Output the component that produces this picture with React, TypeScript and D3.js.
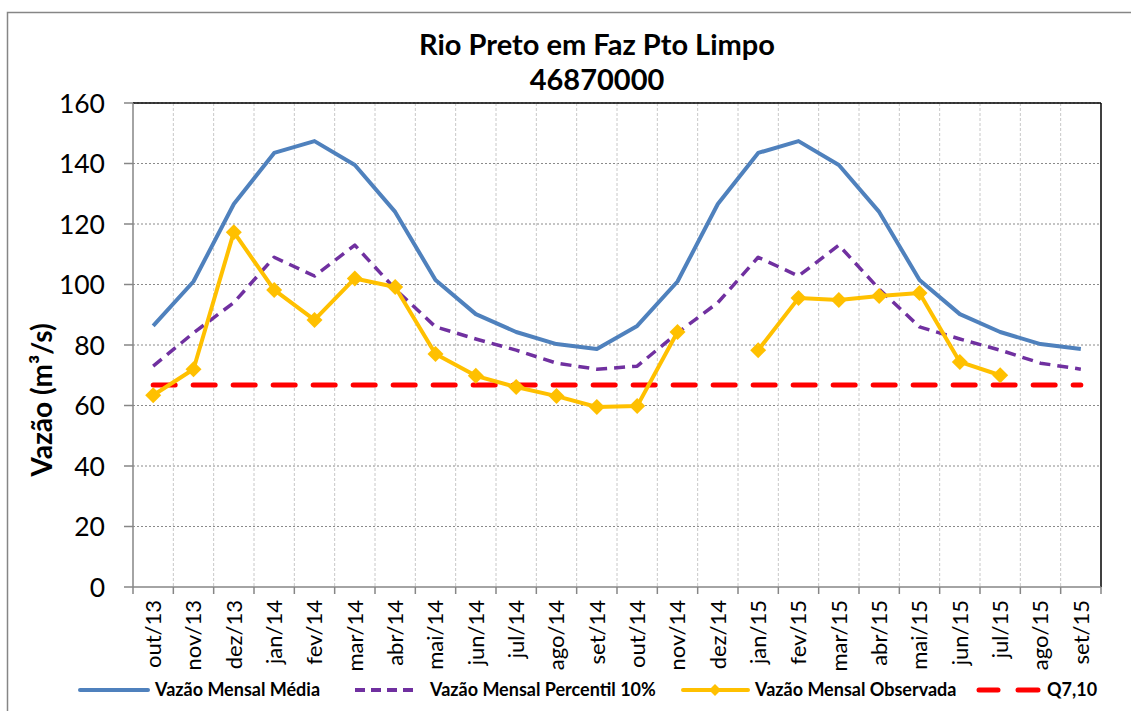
import React from "react";
import * as d3 from "d3";

const W = 1131;
const H = 711;
const FONT = "Lato, 'Open Sans', sans-serif";

const months = [
  "out/13", "nov/13", "dez/13", "jan/14", "fev/14", "mar/14", "abr/14", "mai/14",
  "jun/14", "jul/14", "ago/14", "set/14", "out/14", "nov/14", "dez/14", "jan/15",
  "fev/15", "mar/15", "abr/15", "mai/15", "jun/15", "jul/15", "ago/15", "set/15",
];

const media = [
  86.3, 101, 126.6, 143.5, 147.4, 139.5, 124, 101.5, 90.2, 84.3, 80.3, 78.7,
  86.3, 101, 126.6, 143.5, 147.4, 139.5, 124, 101.5, 90.2, 84.3, 80.3, 78.7,
];

const percentil10 = [
  73, 84, 94, 109, 102.8, 113, 98.5, 86, 82, 78.3, 74, 72,
  73, 84, 94, 109, 102.8, 113, 98.5, 86, 82, 78.3, 74, 72,
];

const observada: (number | null)[] = [
  63.4, 72, 117.3, 98.2, 88.3, 102, 99.2, 77, 69.8, 66.1, 63.1, 59.5,
  59.8, 84.3, null, 78.3, 95.5, 94.9, 96.2, 97.2, 74.4, 70, null, null,
];

const q710 = 66.8;
const yTicks = [0, 20, 40, 60, 80, 100, 120, 140, 160];

const plot = { left: 133, right: 1101, top: 103, bottom: 587 };

const x = d3.scaleBand<string>().domain(months).range([plot.left, plot.right]);
const y = d3.scaleLinear().domain([0, 160]).range([plot.bottom, plot.top]);
const cx = (m: string) => (x(m) as number) + x.bandwidth() / 2;

const lineGen = d3
  .line<number | null>()
  .defined((d) => d !== null)
  .x((_, i) => cx(months[i]))
  .y((d) => y(d as number));

const diamond = (px: number, py: number, r: number) =>
  `M${px},${py - r}L${px + r},${py}L${px},${py + r}L${px - r},${py}Z`;

const App = () => {
  const q = months.map(() => q710);
  const qLine = d3
    .line<number>()
    .x((_, i) => cx(months[i]))
    .y((d) => y(d));

  return (
    <svg
      width={W}
      height={H}
      style={{ position: "fixed", left: 0, top: 0, background: "#fff" }}
      fontFamily={FONT}
    >
      <rect x={7.5} y={12.5} width={1200} height={800} fill="#fff" stroke="#868686" strokeWidth={1.5} />

      {/* horizontal grid */}
      {yTicks.slice(1).map((t) => (
        <line key={"h" + t} x1={plot.left} x2={plot.right} y1={y(t)} y2={y(t)}
          stroke="#8a8a8a" strokeWidth={1} strokeDasharray="2,2" />
      ))}
      {/* vertical grid */}
      {months.slice(1).map((m) => (
        <line key={"v" + m} x1={x(m) as number} x2={x(m) as number} y1={plot.top} y2={plot.bottom}
          stroke="#c8c8c8" strokeWidth={1} strokeDasharray="3,2" />
      ))}
      {/* top & right border */}
      <line x1={plot.left} x2={plot.right} y1={plot.top} y2={plot.top} stroke="#000" strokeWidth={1.5} />
      <line x1={plot.right} x2={plot.right} y1={plot.top} y2={plot.bottom} stroke="#000" strokeWidth={1.5} />

      {/* y axis */}
      <line x1={plot.left} x2={plot.left} y1={plot.top} y2={plot.bottom} stroke="#868686" strokeWidth={1.5} />
      {yTicks.map((t) => (
        <g key={"y" + t}>
          <line x1={plot.left - 9} x2={plot.left} y1={y(t)} y2={y(t)} stroke="#868686" strokeWidth={1.5} />
          <text x={105} y={y(t)} dy="0.36em" textAnchor="end" fontSize={26.5} fill="#000">{t}</text>
        </g>
      ))}
      {/* x axis */}
      <line x1={plot.left} x2={plot.right} y1={plot.bottom} y2={plot.bottom} stroke="#868686" strokeWidth={1.5} />
      {months.map((m) => (
        <line key={"xt" + m} x1={x(m) as number} x2={x(m) as number} y1={plot.bottom} y2={plot.bottom + 7}
          stroke="#868686" strokeWidth={1.5} />
      ))}
      <line x1={plot.right} x2={plot.right} y1={plot.bottom} y2={plot.bottom + 7} stroke="#868686" strokeWidth={1.5} />
      {months.map((m) => (
        <text key={"xl" + m} transform={`translate(${cx(m)},${plot.bottom + 13}) rotate(-90)`}
          textAnchor="end" dy="0.35em" fontSize={22} fill="#000">{m}</text>
      ))}

      {/* title */}
      <text x={597} y={55} textAnchor="middle" fontSize={29} fontWeight="bold" fill="#000">Rio Preto em Faz Pto Limpo</text>
      <text x={597} y={90} textAnchor="middle" fontSize={29} fontWeight="bold" fill="#000">46870000</text>

      {/* y title */}
      <text transform="translate(52,400) rotate(-90)" textAnchor="middle" fontSize={28} fontWeight="bold" fill="#000">
        Vazão (m³/s)
      </text>

      {/* series */}
      <path d={qLine(q) as string} fill="none" stroke="#ff0000" strokeWidth={5} strokeDasharray="22,18" strokeLinecap="round" />
      <path d={lineGen(media) as string} fill="none" stroke="#4f81bd" strokeWidth={4} strokeLinejoin="round" />
      <path d={lineGen(percentil10) as string} fill="none" stroke="#7030a0" strokeWidth={3.5} strokeDasharray="11,7" strokeLinejoin="round" />
      <path d={lineGen(observada) as string} fill="none" stroke="#ffc000" strokeWidth={4} strokeLinejoin="round" />
      {observada.map((v, i) =>
        v === null ? null : (
          <path key={"d" + i} d={diamond(cx(months[i]), y(v), 8)} fill="#ffc000" />
        )
      )}

      {/* legend */}
      <g fontSize={18} fontWeight="bold" fill="#000">
        <line x1={80} x2={148} y1={690} y2={690} stroke="#4f81bd" strokeWidth={4} strokeLinecap="round" />
        <text x={155} y={690} dy="0.35em">Vazão Mensal Média</text>

        <line x1={355} x2={418} y1={690} y2={690} stroke="#7030a0" strokeWidth={4} strokeDasharray="10,6" />
        <text x={430} y={690} dy="0.35em">Vazão Mensal Percentil 10%</text>

        <line x1={683} x2={748} y1={690} y2={690} stroke="#ffc000" strokeWidth={4} strokeLinecap="round" />
        <path d={diamond(715, 690, 6)} fill="#ffc000" />
        <text x={755} y={690} dy="0.35em">Vazão Mensal Observada</text>

        <line x1={979} x2={998} y1={690} y2={690} stroke="#ff0000" strokeWidth={5} strokeLinecap="round" />
        <line x1={1018} x2={1038} y1={690} y2={690} stroke="#ff0000" strokeWidth={5} strokeLinecap="round" />
        <text x={1047} y={690} dy="0.35em">Q7,10</text>
      </g>
    </svg>
  );
};

export default App;
